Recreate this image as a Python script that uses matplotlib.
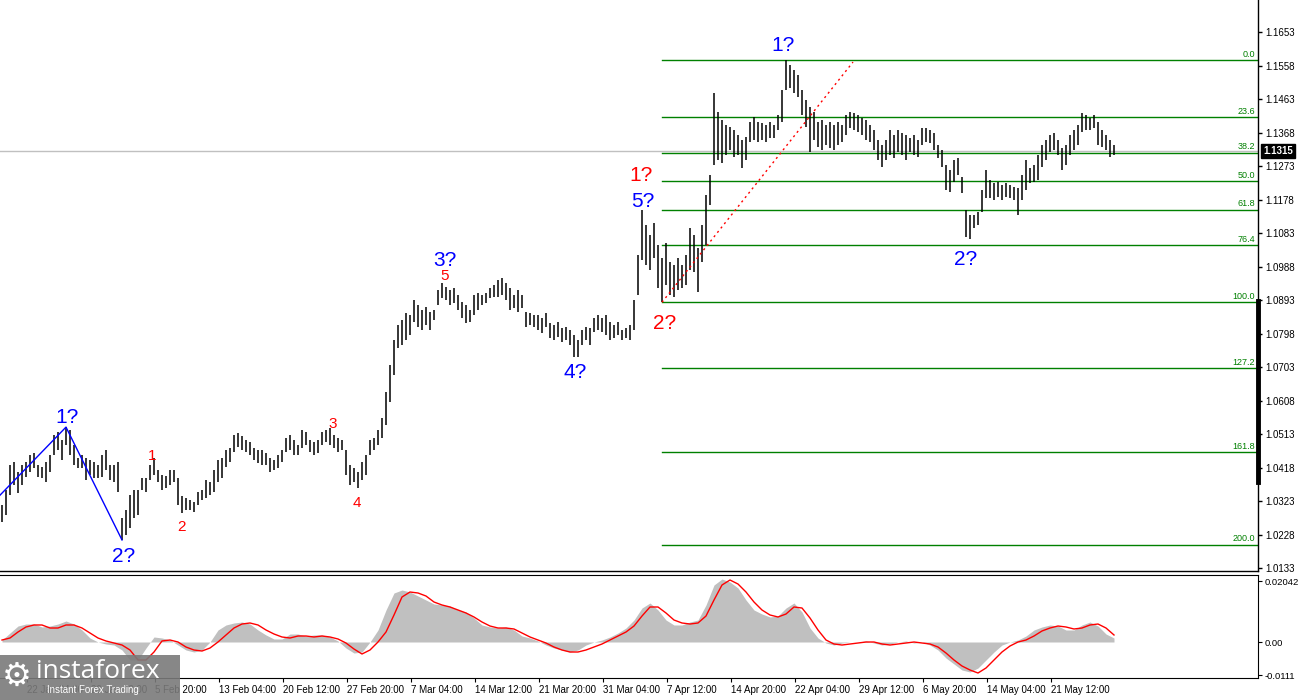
import numpy as np
import matplotlib.pyplot as plt
from matplotlib.patches import Rectangle

# ---- price bars (one bar ~ 8h) ----
highs = [1.0312, 1.0354, 1.0425, 1.0434, 1.0405, 1.0425, 1.0434, 1.0454, 1.0459, 1.0425,
         1.0420, 1.0434, 1.0454, 1.0510, 1.0519, 1.0496, 1.0533, 1.0525, 1.0482, 1.0445,
         1.0454, 1.0445, 1.0439, 1.0434, 1.0425, 1.0454, 1.0468, 1.0425, 1.0425, 1.0434,
         1.0275, 1.0298, 1.0340, 1.0354, 1.0354, 1.0388, 1.0388, 1.0425, 1.0445, 1.0411,
         1.0397, 1.0394, 1.0411, 1.0411, 1.0388, 1.0337, 1.0332, 1.0326, 1.0320, 1.0349,
         1.0354, 1.0383, 1.0377, 1.0411, 1.0439, 1.0445, 1.0468, 1.0473, 1.0510, 1.0516,
         1.0508, 1.0496, 1.0490, 1.0473, 1.0468, 1.0468, 1.0459, 1.0445, 1.0439, 1.0454,
         1.0468, 1.0502, 1.0510, 1.0496, 1.0482, 1.0525, 1.0519, 1.0496, 1.0490, 1.0496,
         1.0519, 1.0525, 1.0530, 1.0510, 1.0502, 1.0496, 1.0468, 1.0425, 1.0417, 1.0405,
         1.0434, 1.0454, 1.0496, 1.0502, 1.0525, 1.0559, 1.0632, 1.0709, 1.0780, 1.0822,
         1.0837, 1.0856, 1.0851, 1.0893, 1.0879, 1.0865, 1.0873, 1.0859, 1.0865, 1.0922,
         1.0941, 1.0930, 1.0922, 1.0927, 1.0907, 1.0888, 1.0879, 1.0865, 1.0907, 1.0913,
         1.0907, 1.0913, 1.0927, 1.0936, 1.0950, 1.0956, 1.0941, 1.0927, 1.0907, 1.0922,
         1.0907, 1.0859, 1.0856, 1.0851, 1.0851, 1.0842, 1.0856, 1.0828, 1.0822, 1.0831,
         1.0814, 1.0817, 1.0808, 1.0794, 1.0780, 1.0808, 1.0817, 1.0814, 1.0842, 1.0851,
         1.0842, 1.0851, 1.0831, 1.0822, 1.0831, 1.0808, 1.0814, 1.0822, 1.0893, 1.1021,
         1.1148, 1.1106, 1.1078, 1.1112, 1.1049, 1.1012, 1.1055, 1.1001, 1.0992, 1.1012,
         1.0992, 1.1021, 1.1097, 1.1078, 1.1041, 1.1106, 1.1191, 1.1248, 1.1480, 1.1426,
         1.1404, 1.1390, 1.1384, 1.1375, 1.1361, 1.1347, 1.1355, 1.1398, 1.1412, 1.1398,
         1.1395, 1.1390, 1.1398, 1.1390, 1.1418, 1.1489, 1.1574, 1.1560, 1.1545, 1.1531,
         1.1489, 1.1460, 1.1441, 1.1426, 1.1398, 1.1404, 1.1390, 1.1398, 1.1390, 1.1398,
         1.1390, 1.1418, 1.1426, 1.1424, 1.1418, 1.1409, 1.1404, 1.1390, 1.1375, 1.1347,
         1.1333, 1.1347, 1.1375, 1.1361, 1.1375, 1.1367, 1.1361, 1.1353, 1.1361, 1.1347,
         1.1381, 1.1381, 1.1375, 1.1367, 1.1333, 1.1319, 1.1276, 1.1262, 1.1290, 1.1296,
         1.1242, 1.1148, 1.1134, 1.1134, 1.1143, 1.1205, 1.1262, 1.1234, 1.1225, 1.1228,
         1.1219, 1.1225, 1.1219, 1.1214, 1.1211, 1.1248, 1.1290, 1.1268, 1.1276, 1.1304,
         1.1333, 1.1347, 1.1361, 1.1367, 1.1347, 1.1324, 1.1333, 1.1361, 1.1375, 1.1390,
         1.1424, 1.1418, 1.1409, 1.1418, 1.1398, 1.1375, 1.1361, 1.1347, 1.1333]
lows = [1.0264, 1.0283, 1.0340, 1.0368, 1.0346, 1.0368, 1.0391, 1.0405, 1.0417, 1.0391,
        1.0388, 1.0377, 1.0405, 1.0454, 1.0468, 1.0439, 1.0482, 1.0454, 1.0425, 1.0417,
        1.0417, 1.0383, 1.0397, 1.0388, 1.0388, 1.0391, 1.0411, 1.0383, 1.0377, 1.0349,
        1.0213, 1.0227, 1.0247, 1.0275, 1.0283, 1.0354, 1.0349, 1.0383, 1.0397, 1.0377,
        1.0354, 1.0360, 1.0368, 1.0377, 1.0312, 1.0289, 1.0298, 1.0298, 1.0292, 1.0312,
        1.0326, 1.0332, 1.0340, 1.0349, 1.0377, 1.0388, 1.0420, 1.0434, 1.0462, 1.0476,
        1.0468, 1.0462, 1.0454, 1.0439, 1.0431, 1.0425, 1.0425, 1.0405, 1.0411, 1.0417,
        1.0434, 1.0462, 1.0468, 1.0454, 1.0454, 1.0473, 1.0482, 1.0462, 1.0454, 1.0459,
        1.0482, 1.0490, 1.0482, 1.0473, 1.0462, 1.0468, 1.0397, 1.0368, 1.0377, 1.0360,
        1.0383, 1.0397, 1.0454, 1.0468, 1.0482, 1.0502, 1.0539, 1.0604, 1.0681, 1.0757,
        1.0766, 1.0780, 1.0794, 1.0831, 1.0817, 1.0808, 1.0822, 1.0808, 1.0837, 1.0879,
        1.0899, 1.0893, 1.0879, 1.0885, 1.0865, 1.0842, 1.0828, 1.0831, 1.0851, 1.0865,
        1.0879, 1.0885, 1.0899, 1.0902, 1.0902, 1.0907, 1.0893, 1.0865, 1.0871, 1.0859,
        1.0871, 1.0817, 1.0822, 1.0817, 1.0808, 1.0800, 1.0817, 1.0785, 1.0780, 1.0788,
        1.0774, 1.0780, 1.0766, 1.0732, 1.0732, 1.0766, 1.0780, 1.0766, 1.0802, 1.0808,
        1.0802, 1.0794, 1.0780, 1.0785, 1.0794, 1.0780, 1.0785, 1.0780, 1.0808, 1.0907,
        1.1006, 1.0992, 1.0978, 1.1012, 1.0927, 1.0887, 1.0936, 1.0907, 1.0902, 1.0922,
        1.0927, 1.0936, 1.0978, 1.0973, 1.0916, 1.1001, 1.1049, 1.1163, 1.1276, 1.1290,
        1.1282, 1.1304, 1.1319, 1.1299, 1.1304, 1.1268, 1.1290, 1.1341, 1.1347, 1.1341,
        1.1347, 1.1341, 1.1353, 1.1353, 1.1375, 1.1398, 1.1489, 1.1494, 1.1480, 1.1469,
        1.1418, 1.1384, 1.1313, 1.1347, 1.1327, 1.1319, 1.1333, 1.1324, 1.1319, 1.1333,
        1.1341, 1.1361, 1.1381, 1.1375, 1.1370, 1.1361, 1.1347, 1.1341, 1.1319, 1.1290,
        1.1270, 1.1290, 1.1304, 1.1296, 1.1313, 1.1304, 1.1290, 1.1313, 1.1304, 1.1299,
        1.1333, 1.1341, 1.1338, 1.1319, 1.1296, 1.1270, 1.1205, 1.1199, 1.1228, 1.1248,
        1.1197, 1.1072, 1.1065, 1.1097, 1.1106, 1.1143, 1.1183, 1.1183, 1.1177, 1.1185,
        1.1177, 1.1185, 1.1183, 1.1177, 1.1134, 1.1177, 1.1205, 1.1225, 1.1228, 1.1234,
        1.1270, 1.1290, 1.1313, 1.1319, 1.1304, 1.1262, 1.1276, 1.1304, 1.1319, 1.1333,
        1.1370, 1.1375, 1.1375, 1.1381, 1.1333, 1.1327, 1.1319, 1.1299, 1.1304]

# ---- MACD panel, one value every second bar ----
macd_hist = [0.00067, 0.00302, 0.00536, 0.00603, 0.00603, 0.00503, 0.00536, 0.00603, 0.00704, 0.00603,
             0.00402, 0.00134, 0.0, -0.00067, -0.00101, -0.00268, -0.00603, -0.00603, -0.00201, 0.00168,
             0.00134, 0.00067, -0.00101, -0.00268, -0.00335, -0.00268, 0.0, 0.00402, 0.00570, 0.00637,
             0.00670, 0.00603, 0.00402, 0.00235, 0.00101, 0.00101, 0.00268, 0.00268, 0.00201, 0.00235,
             0.00235, 0.00168, 0.00034, -0.00201, -0.00369, -0.00335, 0.0, 0.00402, 0.01072, 0.01642,
             0.01742, 0.01675, 0.01541, 0.01407, 0.01273, 0.01240, 0.01206, 0.01072, 0.01005, 0.00804,
             0.00570, 0.00503, 0.00469, 0.00503, 0.00402, 0.00201, 0.00134, 0.00034, -0.00101, -0.00201,
             -0.00268, -0.00335, -0.00268, -0.00101, 0.0, 0.00067, 0.00168, 0.00302, 0.00469, 0.00737,
             0.01139, 0.01307, 0.01072, 0.00737, 0.00570, 0.00570, 0.00670, 0.00737, 0.01240, 0.01910,
             0.02111, 0.02010, 0.01809, 0.01407, 0.01072, 0.00938, 0.00838, 0.00871, 0.01139, 0.01307,
             0.01005, 0.00469, 0.00134, -0.00034, -0.00101, -0.00034, 0.0, 0.0, 0.00034, -0.00034,
             -0.00101, -0.00067, 0.0, 0.00034, -0.00034, 0.0, -0.00101, -0.00268, -0.00536, -0.00737,
             -0.00938, -0.01005, -0.00871, -0.00603, -0.00335, -0.00101, 0.0, 0.00067, 0.00201, 0.00402,
             0.00503, 0.00570, 0.00536, 0.00402, 0.00402, 0.00570, 0.00670, 0.00536, 0.00268, 0.00134]
macd_signal = [0.00067, 0.00134, 0.00335, 0.00503, 0.00570, 0.00570, 0.00469, 0.00469, 0.00570, 0.00570,
               0.00469, 0.00302, 0.00134, 0.00034, -0.00034, -0.00101, -0.00268, -0.00603, -0.00603, -0.00335,
               0.00034, 0.00067, 0.0, -0.00168, -0.00268, -0.00302, -0.00201, 0.0, 0.00235, 0.00469,
               0.00603, 0.00637, 0.00570, 0.00402, 0.00268, 0.00168, 0.00134, 0.00201, 0.00201, 0.00168,
               0.00201, 0.00168, 0.00101, -0.00034, -0.00235, -0.00402, -0.00268, 0.0, 0.00335, 0.00905,
               0.01508, 0.01675, 0.01642, 0.01541, 0.01340, 0.01240, 0.01173, 0.01072, 0.00972, 0.00838,
               0.00670, 0.00536, 0.00469, 0.00469, 0.00436, 0.00302, 0.00168, 0.00067, -0.00034, -0.00168,
               -0.00268, -0.00335, -0.00335, -0.00268, -0.00168, -0.00067, 0.00067, 0.00201, 0.00335, 0.00536,
               0.00871, 0.01173, 0.01173, 0.00972, 0.00737, 0.00637, 0.00603, 0.00637, 0.00871, 0.01407,
               0.01910, 0.02077, 0.01943, 0.01675, 0.01340, 0.01072, 0.00905, 0.00838, 0.00938, 0.01173,
               0.01139, 0.00804, 0.00402, 0.00067, -0.00067, -0.00101, -0.00067, -0.00034, 0.0, 0.0,
               -0.00067, -0.00101, -0.00067, -0.00034, 0.0, -0.00034, -0.00067, -0.00168, -0.00369, -0.00603,
               -0.00804, -0.00938, -0.01039, -0.00871, -0.00603, -0.00335, -0.00134, 0.0, 0.00067, 0.00201,
               0.00369, 0.00469, 0.00536, 0.00503, 0.00436, 0.00469, 0.00570, 0.00603, 0.00469, 0.00235]

current_price = 1.1315
fib_pct = [0.0, 23.6, 38.2, 50.0, 61.8, 76.4, 100.0, 127.2, 161.8, 200.0]
fib_low_bar, fib_high_bar = 165, 196
trend_start = (165, 1.0887)
trend_end = (212.75, 1.1568)
blue_path_x = [-0.5, 16, 30]
blue_path_y = [1.0340, 1.0533, 1.0213]

# wave labels: (text, bar position, price, colour, size)
waves = [("1?", 16.25, 1.0561, "blue", 15), ("2?", 30.5, 1.0167, "blue", 15),
         ("1", 37.5, 1.0451, "red", 11), ("2", 44.75, 1.0249, "red", 11),
         ("3", 82.75, 1.0542, "red", 11), ("4", 88.75, 1.0318, "red", 11),
         ("5", 110.75, 1.0961, "red", 11), ("3?", 110.75, 1.1004, "blue", 15),
         ("4?", 143.25, 1.0689, "blue", 15), ("1?", 159.75, 1.1245, "red", 15),
         ("5?", 160.25, 1.1174, "blue", 15), ("2?", 165.75, 1.0828, "red", 15),
         ("1?", 195.25, 1.1616, "blue", 15), ("2?", 241, 1.1007, "blue", 15)]

date_labels = ["22 Jan 04:00", "29 Jan 12:00", "5 Feb 20:00", "13 Feb 04:00", "20 Feb 12:00",
               "27 Feb 20:00", "7 Mar 04:00", "14 Mar 12:00", "21 Mar 20:00", "31 Mar 04:00",
               "7 Apr 12:00", "14 Apr 20:00", "22 Apr 04:00", "29 Apr 12:00", "6 May 20:00",
               "14 May 04:00", "21 May 12:00"]
date_pos = [6.25 + 16 * k for k in range(len(date_labels))]
price_ticks = [1.0133 + 0.0095 * k for k in range(17)]

plt.rcParams['font.family'] = ['Liberation Sans', 'DejaVu Sans']

fig = plt.figure(figsize=(13, 7), dpi=100)
W, H = 1300.0, 700.0
ax = fig.add_axes([0, 1 - 571 / H, 1258 / W, 571 / H])
ax2 = fig.add_axes([0, 1 - 678 / H, 1258 / W, 103 / H])

xs = np.arange(len(highs))
ax.axhline(current_price, color='#c0c0c0', lw=1, zorder=1)
ax.vlines(xs, lows, highs, color='black', lw=1.1, zorder=3)

hi = highs[fib_high_bar]
lo = lows[fib_low_bar]
for p in fib_pct:
    lvl = hi - p / 100.0 * (hi - lo)
    ax.plot([fib_low_bar, 314], [lvl, lvl], color='#008000', lw=1, zorder=2)
    ax.text(313.3, lvl + 0.0004, "%.1f" % p, color='#008000', fontsize=6.5,
            ha='right', va='bottom', zorder=4)

ax.plot([trend_start[0], trend_end[0]], [trend_start[1], trend_end[1]],
        color='red', lw=1, ls=(0, (1.5, 2.5)), zorder=4)
ax.plot(blue_path_x, blue_path_y, color='blue', lw=1, zorder=4)

for t, x, y, c, s in waves:
    ax.text(x, y, t, color=c, fontsize=s, ha='center', va='center', zorder=5)

ax.set_xlim(-0.5, 314)
ax.set_ylim(1.0125, 1.1744)
ax.yaxis.tick_right()
ax.set_yticks(price_ticks)
ax.set_yticklabels(["%.4f" % v for v in price_ticks])
ax.tick_params(axis='y', length=3, width=1, labelsize=7, pad=2, colors='black')
ax.tick_params(axis='x', bottom=False, labelbottom=False)
for s in ['left', 'top']:
    ax.spines[s].set_visible(False)
ax.spines['right'].set_linewidth(1)
ax.spines['bottom'].set_linewidth(1)

# thick segment on the price scale
ax.plot([1, 1], [1.0377, 1.0890], color='black', lw=3.5,
        transform=ax.get_yaxis_transform(), clip_on=False, zorder=6)
ax.text(1.004, current_price, "1.1315", transform=ax.get_yaxis_transform(),
        color='white', fontsize=7, fontweight='bold', ha='left', va='center',
        bbox=dict(facecolor='black', edgecolor='black', pad=1.5), zorder=7)

# MACD
mx = np.arange(0, len(highs), 2)
ax2.fill_between(mx, 0, macd_hist, color='#c0c0c0', lw=0, zorder=1)
ax2.plot(mx, macd_signal, color='red', lw=1, zorder=2)
ax2.set_xlim(-0.5, 314)
ax2.set_ylim(-0.01206, 0.02245)
ax2.yaxis.tick_right()
ax2.set_yticks([0.02042, 0.0, -0.0111])
ax2.set_yticklabels(["0.02042", "0.00", "-0.0111"])
ax2.tick_params(axis='y', length=3, labelsize=6.8, pad=2)
ax2.set_xticks(date_pos)
ax2.set_xticklabels(date_labels, ha='left')
ax2.tick_params(axis='x', length=3, labelsize=7, pad=2)
ax2.spines['left'].set_visible(False)

# broker logo
fig.patches.append(Rectangle((0, 0), 180 / W, 45 / H, transform=fig.transFigure,
                             facecolor='#7a7a7a', edgecolor='none', alpha=0.9, zorder=10))
fig.text(17 / W, 1 - 676 / H, "\u2699", color='white', fontsize=24, ha='center',
         va='center', family='DejaVu Sans', zorder=11)
fig.text(36 / W, 1 - 672 / H, "instaforex", color='white', fontsize=19,
         family='Open Sans', ha='left', va='center', zorder=11)
fig.text(47 / W, 1 - 690 / H, "Instant Forex Trading", color='white', fontsize=7,
         ha='left', va='center', zorder=11)

fig.savefig("out.png", dpi=100)
